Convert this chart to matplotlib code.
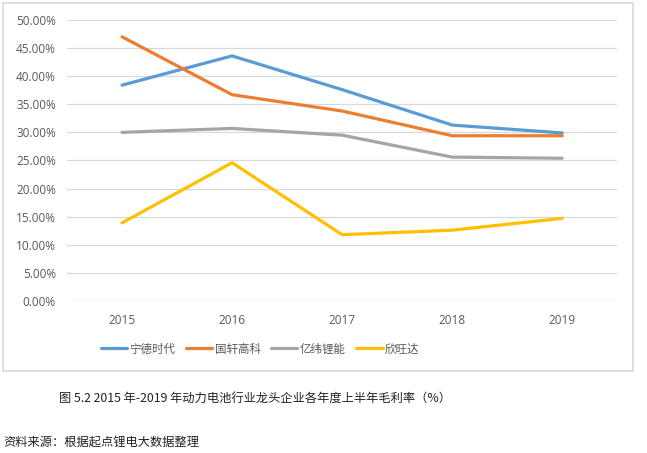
import matplotlib.pyplot as plt
from matplotlib.patches import Rectangle
from matplotlib.ticker import PercentFormatter

plt.rcParams['font.family'] = ['Noto Sans CJK SC', 'DejaVu Sans']

years = ['2015', '2016', '2017', '2018', '2019']
catl = [38.4, 43.6, 37.6, 31.3, 29.9]
gotion = [47.0, 36.7, 33.8, 29.4, 29.4]
eve = [30.0, 30.7, 29.5, 25.6, 25.4]
sunwoda = [13.9, 24.6, 11.8, 12.6, 14.7]
names = ['宁德时代', '国轩高科', '亿纬锂能', '欣旺达']
colors = ['#5B9BD5', '#ED7D31', '#A5A5A5', '#FFC000']

fig = plt.figure(figsize=(6.47, 4.53), dpi=100)
ax = fig.add_axes([0.1036, 0.3355, 0.8504, 0.6205])

x = range(len(years))
for vals, name, c in zip([catl, gotion, eve, sunwoda], names, colors):
    ax.plot(x, [v / 100 for v in vals], color=c, lw=2.3, label=name,
            solid_capstyle='round', solid_joinstyle='round')

ax.set_xlim(-0.5, 4.5)
ax.set_ylim(0, 0.5)
ax.set_yticks([i * 0.05 for i in range(11)])
ax.yaxis.set_major_formatter(PercentFormatter(1.0, decimals=2))
ax.set_xticks(list(x))
ax.set_xticklabels(years)
ax.grid(axis='y', color='#D9D9D9', lw=0.9)
ax.set_axisbelow(True)
for s in ax.spines.values():
    s.set_visible(False)
ax.tick_params(length=0, labelsize=8.5, labelcolor='#595959', pad=8)
ax.tick_params(axis='x', pad=9)
for lab in ax.get_xticklabels() + ax.get_yticklabels():
    lab.set_family(['Open Sans', 'DejaVu Sans'])

# chart border
fig.patches.append(Rectangle((3 / 647, 1 - 371 / 453), 630 / 647, 368 / 453,
                             transform=fig.transFigure, fill=False,
                             edgecolor='#D9D9D9', lw=1.2))

fig.legend(loc='center', bbox_to_anchor=(260 / 647, 1 - 349 / 453), ncol=4,
           frameon=False, fontsize=8.3, handlelength=2.3, columnspacing=0.9,
           handletextpad=0.2, labelcolor='#595959')

fig.text(255 / 647, 1 - 399 / 453,
         '图 5.2 2015 年-2019 年动力电池行业龙头企业各年度上半年毛利率（%）',
         ha='center', va='center', fontsize=8.8, color='#222222')
fig.text(3 / 647, 1 - 442 / 453, '资料来源：根据起点锂电大数据整理',
         ha='left', va='center', fontsize=8.8, color='#222222')

fig.savefig('out.png', dpi=100)
